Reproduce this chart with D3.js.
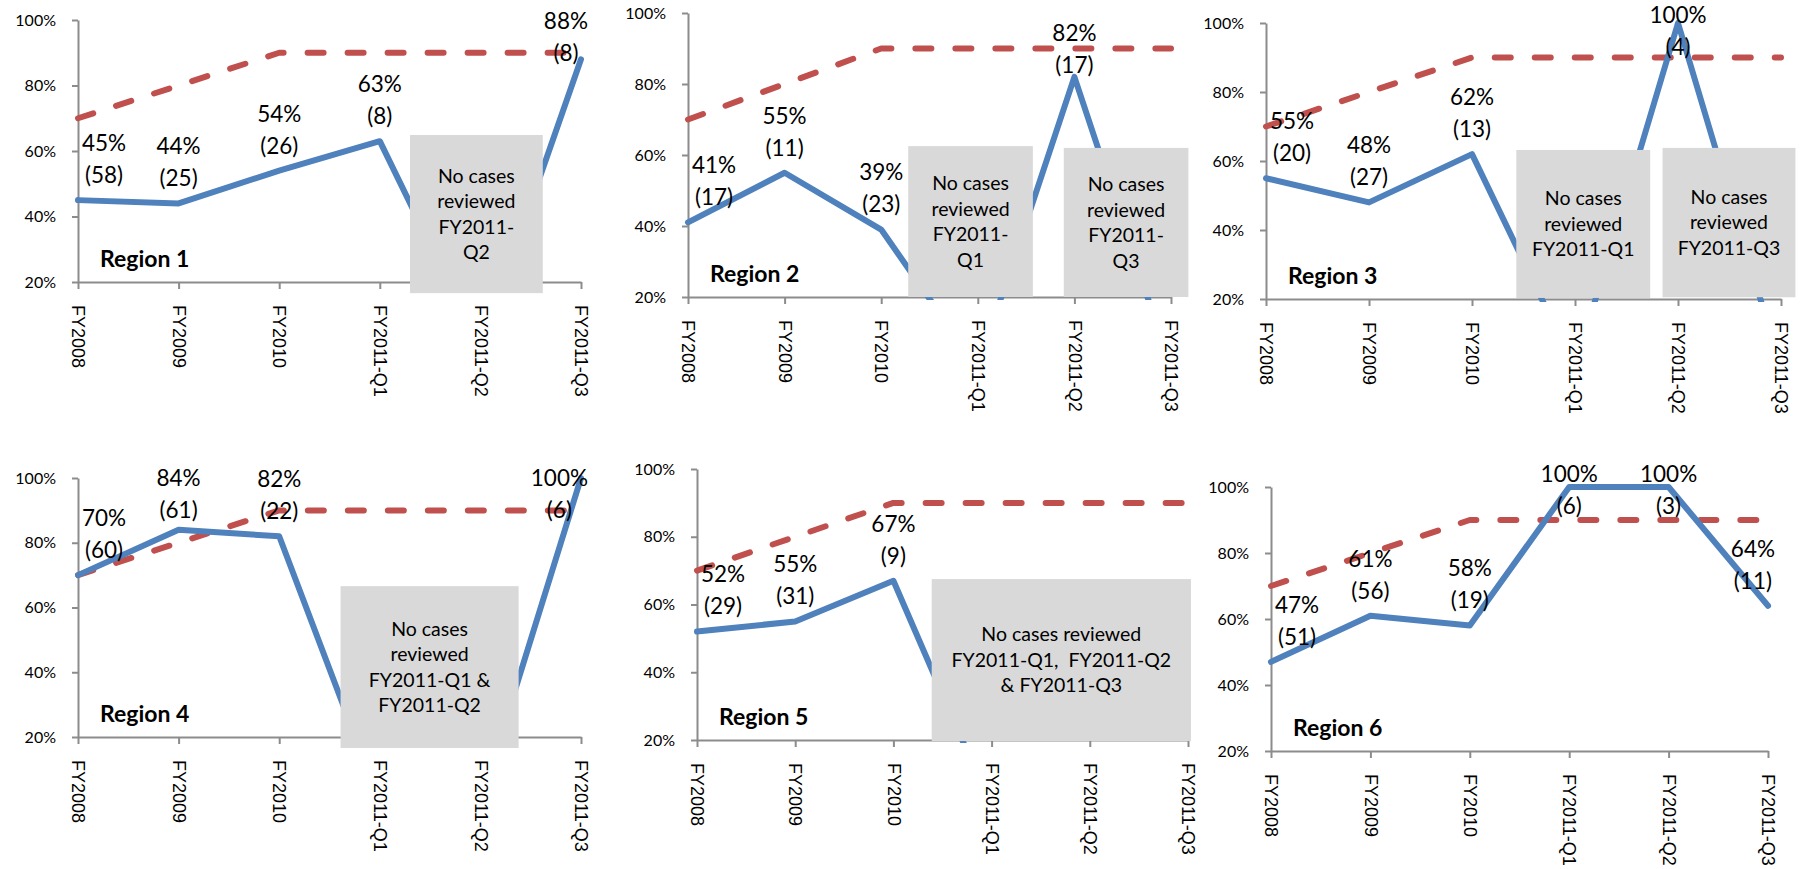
<!DOCTYPE html>
<html>
<head>
<meta charset="utf-8">
<script src="https://cdn.jsdelivr.net/npm/d3@7"></script>
<style>
  html, body { margin: 0; padding: 0; background: #fff; }
  svg { display: block; }
</style>
</head>
<body>
<svg id="chart" width="1803" height="869"></svg>
<script>
// ---------------- DATA ----------------
const categories = ["FY2008", "FY2009", "FY2010", "FY2011-Q1", "FY2011-Q2", "FY2011-Q3"];
const yTickValues = [20, 40, 60, 80, 100];
const targetValues = [70, 80, 90, 90, 90, 90];

const regionNames = ["Region 1", "Region 2", "Region 3", "Region 4", "Region 5", "Region 6"];

// percent compliant (0 = no cases reviewed) and number of cases reviewed
const region1Pct = [45, 44, 54, 63, 0, 88];
const region1Cases = [58, 25, 26, 8, null, 8];
const region2Pct = [41, 55, 39, 0, 82, 0];
const region2Cases = [17, 11, 23, null, 17, null];
const region3Pct = [55, 48, 62, 0, 100, 0];
const region3Cases = [20, 27, 13, null, 4, null];
const region4Pct = [70, 84, 82, 0, 0, 100];
const region4Cases = [60, 61, 22, null, null, 6];
const region5Pct = [52, 55, 67, 0, 0, 0];
const region5Cases = [29, 31, 9, null, null, null];
const region6Pct = [47, 61, 58, 100, 100, 64];
const region6Cases = [51, 56, 19, 6, 3, 11];

// "no cases" note texts
const region1Notes = [["No cases", "reviewed", "FY2011-", "Q2"]];
const region2Notes = [["No cases", "reviewed", "FY2011-", "Q1"], ["No cases", "reviewed", "FY2011-", "Q3"]];
const region3Notes = [["No cases", "reviewed", "FY2011-Q1"], ["No cases", "reviewed", "FY2011-Q3"]];
const region4Notes = [["No cases", "reviewed", "FY2011-Q1 &", "FY2011-Q2"]];
const region5Notes = [["No cases reviewed", "FY2011-Q1,  FY2011-Q2", "& FY2011-Q3"]];
const region6Notes = [];

const pctSeries = [region1Pct, region2Pct, region3Pct, region4Pct, region5Pct, region6Pct];
const caseSeries = [region1Cases, region2Cases, region3Cases, region4Cases, region5Cases, region6Cases];
const noteSeries = [region1Notes, region2Notes, region3Notes, region4Notes, region5Notes, region6Notes];

// ---------------- LAYOUT ----------------
// plot area of each small chart; note boxes in category-index / value units
const layout = [
  { x0: 78,   x1: 581,  yTop: 20,  yBot: 282, labelMin: 21,
    boxes: [{ c0: 3.30, c1: 4.62, v0: 64.9, v1: 16.6 }] },
  { x0: 688,  x1: 1171, yTop: 13,  yBot: 297, labelMin: 33,
    boxes: [{ c0: 2.28, c1: 3.57, v0: 62.5, v1: 20 }, { c0: 3.89, c1: 5.18, v0: 62.0, v1: 20 }] },
  { x0: 1266, x1: 1781, yTop: 23,  yBot: 299, labelMin: 15,
    boxes: [{ c0: 2.43, c1: 3.73, v0: 63.2, v1: 20.3 }, { c0: 3.85, c1: 5.14, v0: 63.8, v1: 20.5 }] },
  { x0: 78,   x1: 581,  yTop: 478, yBot: 737, labelMin: 478,
    boxes: [{ c0: 2.61, c1: 4.38, v0: 66.6, v1: 16.6 }] },
  { x0: 697,  x1: 1188, yTop: 469, yBot: 740, labelMin: 460,
    boxes: [{ c0: 2.39, c1: 5.03, v0: 67.5, v1: 19.7 }] },
  { x0: 1271, x1: 1768, yTop: 487, yBot: 751, labelMin: 474,
    boxes: [] }
];

const BLUE = "#4F81BD", RED = "#C0504D", AXIS = "#8C8C8C", BOXFILL = "#D9D9D9";
const FONT = "Lato, 'Open Sans', sans-serif";

const svg = d3.select("#chart");
svg.append("rect").attr("width", 1803).attr("height", 869).attr("fill", "#fff");

layout.forEach((L, i) => {
  const g = svg.append("g");
  const x = d3.scalePoint().domain(categories).range([L.x0, L.x1]);
  const y = d3.scaleLinear().domain([20, 100]).range([L.yBot, L.yTop]);
  const step = x.step();
  const xc = c => L.x0 + c * step;

  // clip for series lines
  const clipId = "clip" + i;
  g.append("clipPath").attr("id", clipId)
    .append("rect")
    .attr("x", L.x0 - 10).attr("y", L.yTop - 12)
    .attr("width", L.x1 - L.x0 + 20).attr("height", L.yBot - L.yTop + 15);

  // y axis
  const yAxis = g.append("g").attr("transform", `translate(${L.x0},0)`)
    .call(d3.axisLeft(y).tickValues(yTickValues).tickFormat(d => d + "%")
      .tickSize(6).tickSizeOuter(0).tickPadding(16));
  yAxis.select(".domain").attr("stroke", AXIS).attr("stroke-width", 2);
  yAxis.selectAll(".tick line").attr("stroke", AXIS).attr("stroke-width", 2);
  yAxis.selectAll(".tick text").attr("fill", "#000")
    .style("font-family", FONT).style("font-size", "16px");

  // x axis
  const xAxis = g.append("g").attr("transform", `translate(0,${L.yBot})`)
    .call(d3.axisBottom(x).tickSize(7).tickSizeOuter(0));
  xAxis.select(".domain").attr("stroke", AXIS).attr("stroke-width", 2);
  xAxis.selectAll(".tick line").attr("stroke", AXIS).attr("stroke-width", 2);
  xAxis.selectAll(".tick text")
    .attr("transform", "rotate(90)")
    .attr("x", 23).attr("y", 0).attr("dy", "0.35em")
    .style("text-anchor", "start")
    .attr("fill", "#000")
    .style("font-family", "'Liberation Sans', Arial, sans-serif")
    .style("font-size", "18px");

  const lineGen = d3.line().x((d, j) => x(categories[j])).y(d => y(d));

  // target (dashed)
  g.append("path")
    .datum(targetValues)
    .attr("d", lineGen)
    .attr("fill", "none")
    .attr("stroke", RED)
    .attr("stroke-width", 6)
    .attr("stroke-dasharray", "16 24")
    .attr("stroke-linecap", "round")
    .attr("stroke-linejoin", "round")
    .attr("clip-path", `url(#${clipId})`);

  // region series
  g.append("path")
    .datum(pctSeries[i])
    .attr("d", lineGen)
    .attr("fill", "none")
    .attr("stroke", BLUE)
    .attr("stroke-width", 6)
    .attr("stroke-linecap", "round")
    .attr("stroke-linejoin", "round")
    .attr("clip-path", `url(#${clipId})`);

  // note boxes
  L.boxes.forEach((b, k) => {
    const bx0 = xc(b.c0), bx1 = xc(b.c1), by0 = y(b.v0), by1 = y(b.v1);
    g.append("rect")
      .attr("x", bx0).attr("y", by0)
      .attr("width", bx1 - bx0).attr("height", by1 - by0)
      .attr("fill", BOXFILL);
    const lines = noteSeries[i][k];
    const lh = 25.5;
    const cy = (by0 + by1) / 2;
    const t = g.append("text")
      .attr("text-anchor", "middle")
      .style("font-family", FONT).style("font-size", "19.5px")
      .style("white-space", "pre")
      .attr("fill", "#000");
    lines.forEach((ln, m) => {
      t.append("tspan")
        .attr("x", (bx0 + bx1) / 2)
        .attr("y", cy + (m - (lines.length - 1) / 2) * lh)
        .attr("dy", "0.35em")
        .text(ln);
    });
  });

  // region title
  g.append("text")
    .attr("x", L.x0 + 22).attr("y", L.yBot - 15)
    .style("font-family", FONT).style("font-size", "23px").style("font-weight", "bold")
    .attr("fill", "#000")
    .text(regionNames[i]);

  // data labels
  pctSeries[i].forEach((v, j) => {
    const n = caseSeries[i][j];
    if (n === null) return;
    const px = x(categories[j]), py = y(v);
    let first = py - 25 - 32;
    if (first < L.labelMin) first = L.labelMin;
    const t = g.append("text")
      .attr("text-anchor", "middle")
      .style("font-family", FONT).style("font-size", "22.5px")
      .attr("fill", "#000");
    const t1 = t.append("tspan").attr("x", px).attr("y", first).attr("dy", "0.35em").text(v + "%");
    const t2 = t.append("tspan").attr("x", px).attr("y", first + 32).attr("dy", "0.35em").text("(" + n + ")");
    const w = Math.max(t1.node().getComputedTextLength(), t2.node().getComputedTextLength());
    let cx = px;
    cx = Math.max(cx, L.x0 + w / 2 + 4);
    cx = Math.min(cx, L.x1 + 7 - w / 2);
    t1.attr("x", cx); t2.attr("x", cx);
  });
});
</script>
</body>
</html>
